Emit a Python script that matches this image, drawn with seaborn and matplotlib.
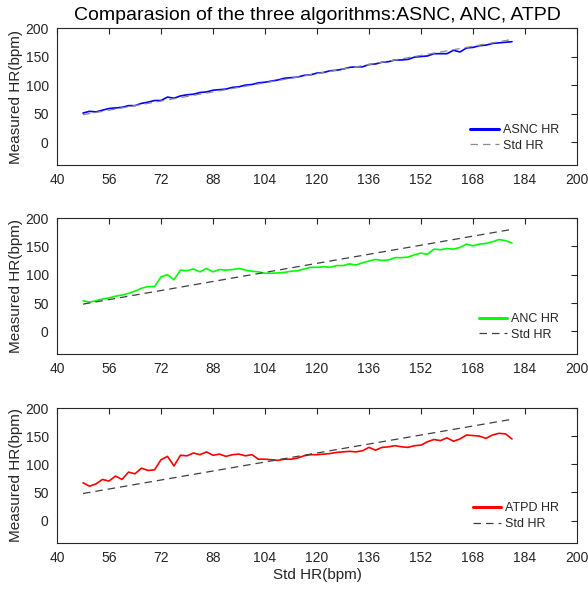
import numpy as np
import pandas as pd
import matplotlib
matplotlib.use("Agg")
import matplotlib.pyplot as plt
import seaborn as sns

# ---- data ----
std_hr = [48, 50, 52, 54, 56, 58, 60, 62, 64, 66, 68, 70, 72, 74, 76, 78, 80, 82, 84, 86,
          88, 90, 92, 94, 96, 98, 100, 102, 104, 106, 108, 110, 112, 114, 116, 118, 120,
          122, 124, 126, 128, 130, 132, 134, 136, 138, 140, 142, 144, 146, 148, 150, 152,
          154, 156, 158, 160, 162, 164, 166, 168, 170, 172, 174, 176, 178, 180]

asnc_hr = [51, 54, 53, 56, 59, 60, 61, 64, 64, 68, 70, 73, 73, 79, 77, 81, 83, 84, 87, 88,
           91, 92, 93, 96, 97, 100, 101, 104, 105, 107, 109, 112, 113, 114, 117, 118, 121,
           122, 125, 126, 128, 131, 132, 132, 136, 137, 140, 141, 144, 144, 145, 149, 150,
           151, 155, 155, 155, 161, 158, 165, 166, 169, 170, 173, 174, 175, 176]

anc_hr = [54, 51.5, 54, 57, 59, 62, 64, 67, 71, 76, 79, 79, 96, 100, 91, 108, 107, 110, 105, 111,
          105, 109, 108, 109, 111, 108, 106, 105, 102.5, 102.5, 103, 104, 106, 107, 110, 113, 113,
          114, 113, 116, 116, 119, 117, 121, 124, 127, 125, 126, 130, 130, 131, 135, 138,
          136, 145, 144, 146, 145, 148, 154, 151, 154, 155, 158, 162, 160, 156]

atpd_hr = [67, 61, 65, 73, 70, 79, 73, 86, 83, 93, 89, 90, 108, 114, 97, 116, 115, 120, 117, 122,
           116, 118, 114, 117, 118, 115, 117, 109, 109, 108, 107, 109, 109, 111, 115, 117, 117,
           118, 119, 121, 122, 123, 122, 124, 130, 125, 130, 131, 133, 131, 130, 133, 134,
           140, 144, 142, 147, 141, 145, 152, 151, 150, 146, 152, 155, 154, 145]

series = [("ASNC HR", asnc_hr, (0, 0, 1)),
          ("ANC HR", anc_hr, (0, 1, 0)),
          ("ATPD HR", atpd_hr, (1, 0, 0))]
std_colors = ["#8c8c8c", "#404040", "#404040"]

x_ticks = [40, 56, 72, 88, 104, 120, 136, 152, 168, 184, 200]
y_ticks = [0, 50, 100, 150, 200]

sns.set_style("white")
plt.rcParams["font.family"] = ["Liberation Sans", "DejaVu Sans"]

fig = plt.figure(figsize=(5.88, 5.89), dpi=100)
L, W = 57 / 588, 520 / 588
tops = [28, 218, 408]
bots = [165, 354, 543]

dark = "#262626"
for i, (name, vals, col) in enumerate(series):
    ax = fig.add_axes([L, 1 - bots[i] / 589, W, (bots[i] - tops[i]) / 589])
    df = pd.DataFrame({"std": std_hr, "meas": vals})
    sns.lineplot(data=df, x="std", y="meas", ax=ax, color=col, lw=1.2, label=name)
    sns.lineplot(data=df, x="std", y="std", ax=ax, color=std_colors[i], lw=0.9,
                 linestyle=(0, (6, 4)), label="Std HR")
    ax.set_xlim(40, 200)
    ax.set_ylim(-40, 200)
    ax.set_xticks(x_ticks)
    ax.set_yticks(y_ticks)
    ax.tick_params(direction="in", top=True, right=True, length=4, width=0.8,
                   labelsize=10, colors=dark, labelcolor=dark, pad=6)
    for s in ax.spines.values():
        s.set_color(dark)
        s.set_linewidth(0.8)
        s.set_visible(True)
    ax.set_ylabel("Measured HR(bpm)", fontsize=11, color=dark, labelpad=2)
    ax.set_xlabel("")
    leg = ax.legend(loc="lower right", frameon=False, fontsize=9,
                    handlelength=2.3, labelspacing=0.3, handletextpad=0.3,
                    bbox_to_anchor=(0.975, 0.06), borderaxespad=0.0)
    leg.get_lines()[0].set_linewidth(2.2)
    for t in leg.get_texts():
        t.set_color(dark)
    if i == 0:
        ax.set_title("Comparasion of the three algorithms:ASNC, ANC, ATPD",
                     fontsize=14, color="black", pad=6)
    if i == 2:
        ax.set_xlabel("Std HR(bpm)", fontsize=11, color=dark, labelpad=2)

fig.savefig("out.png", dpi=100)
